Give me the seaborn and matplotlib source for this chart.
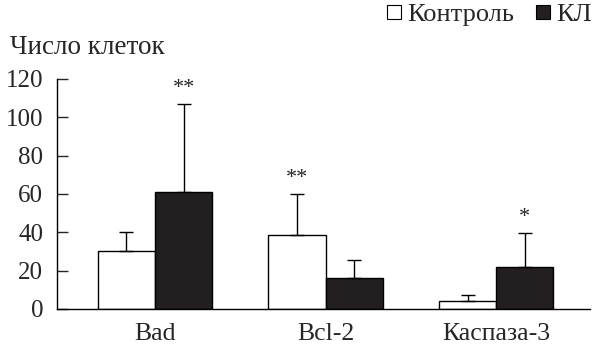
import matplotlib
matplotlib.use("Agg")
import matplotlib.pyplot as plt
from matplotlib.lines import Line2D
import seaborn as sns
import pandas as pd

# Données
categories = ["Bad", "Bcl-2", "Каспаза-3"]
groups = ["Контроль", "КЛ"]
control = [30, 38.6, 4.3]
kl = [61.2, 16.3, 21.7]
control_err = [10, 21.4, 2.8]
kl_err = [45.8, 9.1, 18.1]
control_stars = ["", "**", ""]
kl_stars = ["**", "", "*"]
yticks = [0, 20, 40, 60, 80, 100, 120]

sns.set_style("ticks")
plt.rcParams["font.family"] = ["Liberation Serif", "DejaVu Serif"]

df = pd.DataFrame({
    "cat": categories * 2,
    "val": control + kl,
    "group": [groups[0]] * 3 + [groups[1]] * 3,
})

fig = plt.figure(figsize=(5.98, 3.46), dpi=100)
ax = fig.add_axes([0.0953, 0.107, 0.8913, 0.665])

sns.barplot(data=df, x="cat", y="val", hue="group", hue_order=groups,
            palette=["white", "#231f20"], edgecolor="black", linewidth=1,
            width=0.67, errorbar=None, legend=False, ax=ax, saturation=1)

# Barres d'erreur (seulement vers le haut) et astérisques
for cont, errs, stars in zip(ax.containers, [control_err, kl_err], [control_stars, kl_stars]):
    for bar, e, s in zip(cont, errs, stars):
        xc = bar.get_x() + bar.get_width() / 2
        h = bar.get_height()
        ax.errorbar(xc, h, yerr=[[0], [e]], fmt="none", ecolor="black",
                    elinewidth=1, capsize=5, capthick=1, clip_on=False)
        if s:
            ax.text(xc, h + e + 3, s, ha="center", va="bottom", fontsize=16)

ax.set_xlim(-0.575, 2.55)
ax.set_ylim(0, 120)
ax.set_yticks(yticks)
ax.set_xlabel("")
ax.set_ylabel("")
ax.tick_params(axis="y", labelsize=18, length=8, width=1, direction="in", pad=10)
ax.tick_params(axis="x", labelsize=18.5, length=0, pad=10)
sns.despine(ax=ax)
for sp in ["left", "bottom"]:
    ax.spines[sp].set_linewidth(1)
    ax.spines[sp].set_color("black")

fig.text(0.017, 0.864, "Число клеток", fontsize=19.5, va="center", ha="left")

handles = [Line2D([], [], marker="s", linestyle="none", markersize=9.5,
                  markerfacecolor=c, markeredgecolor="black", markeredgewidth=0.8)
           for c in ["white", "#231f20"]]
fig.legend(handles, groups, loc="upper right", bbox_to_anchor=(1.03, 1.06),
           ncol=2, frameon=False, fontsize=19, handlelength=0.6,
           handletextpad=0.2, columnspacing=0.8)

fig.savefig("out.png", dpi=100)
